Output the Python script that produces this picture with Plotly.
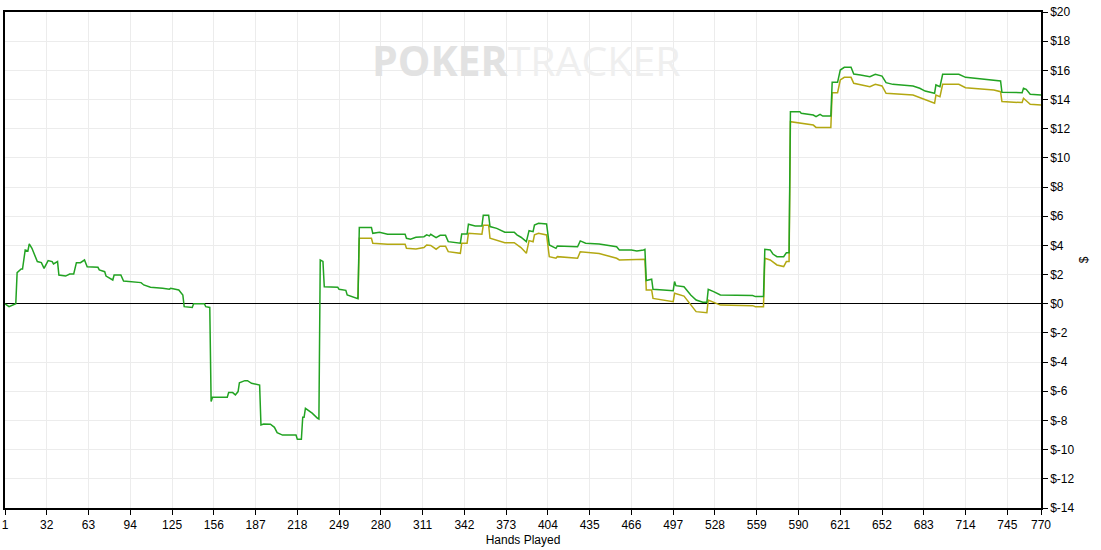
import plotly.graph_objects as go

# Net won (green) breakpoints: hand number and cumulative $
hands_net = [1, 4, 9, 10, 13, 14, 16, 18, 19, 21, 25, 28, 30, 31, 33, 36, 37, 40, 41, 46, 49, 52, 54, 57, 60, 62,
             70, 71, 75, 76, 81, 82, 87, 89, 96, 102, 104, 109, 118, 123, 124, 130, 133, 134, 140, 141, 149, 150, 153,
             154, 155, 166, 167, 170, 172, 174, 175, 179, 181, 184, 190, 191, 193, 198, 201, 203, 207, 217, 218, 221,
             222, 223, 224, 229, 233, 234, 235, 237, 238, 248, 249, 254, 255, 260, 263,
             264, 273, 274, 279, 285, 298, 299, 302, 306, 312, 314, 316, 317, 321, 324, 328, 330, 335, 339, 340, 344,
             345, 350, 355, 356, 360, 361, 366, 369, 372, 379, 381, 384, 388, 390, 393, 394, 397, 403, 405, 410, 411,
             426, 428, 432, 442, 455, 457, 466, 470, 475, 476, 477, 481, 482, 497, 498, 499, 505, 508, 510, 514, 519,
             522, 523, 527, 532, 556, 558, 564, 565, 569, 571, 574, 579, 581, 583, 584, 591, 592, 601, 603, 606, 608,
             614, 615, 619, 621, 624, 629, 631, 636, 643, 647, 652, 655, 660, 675, 680, 684, 691, 692, 695, 697, 709,
             714, 722, 730, 735, 740, 741, 756, 757, 759, 762, 770]
net_won = [0, -0.2, 0, 2.13, 2.38, 2.38, 3.69, 3.62, 4.1, 3.8, 2.89, 2.82, 2.43, 2.59, 2.96, 2.89, 2.73, 2.89, 1.97,
           1.9, 2.04, 2.04, 2.82, 2.82, 3.0, 2.54, 2.5, 2.32, 2.2, 1.9, 1.63, 1.97, 1.97, 1.56, 1.52, 1.45, 1.29, 1.13,
           1.06, 1.0, 1.06, 0.95, 0.6, -0.2, -0.25, 0, 0, -0.2, -0.25,
           -6.7, -6.41, -6.41, -6.09, -6.09, -6.25, -6.02, -5.41, -5.27, -5.27, -5.45, -5.57, -8.31, -8.24, -8.26,
           -8.47, -8.83, -9.0, -9.0, -9.29, -9.29, -7.78, -7.78, -7.17, -7.5, -7.85, -7.9, 3.0, 2.9, 1.17, 1.13, 0.99,
           0.92, 0.6, 0.44, 0.35,
           5.22, 5.22, 4.83, 4.90, 4.76, 4.76, 4.49, 4.42, 4.56, 4.60, 4.72, 4.65, 4.76, 4.53, 4.69, 4.69, 4.26, 4.19,
           4.15, 4.78, 4.78, 5.45, 5.33, 5.33, 6.06, 6.06, 5.29, 5.17, 5.01, 4.90, 4.90, 4.72, 4.56, 4.26, 5.01, 4.94,
           5.40, 5.52, 5.47, 4.03, 3.80, 3.96, 3.91, 4.31, 4.15, 4.10, 3.91, 3.69, 3.69, 3.62, 3.69, 3.73, 1.59, 1.68,
           0.99, 0.90, 1.52, 1.24, 1.17, 0.83, 0.60, 0.26, 0.10, 0.10, 0.99, 0.83, 0.60, 0.56, 0.49, 0.49, 3.73, 3.69,
           3.41, 3.23, 3.23, 3.5, 3.5, 13.17, 13.17, 13.06, 12.94, 12.83, 12.99, 12.87, 12.87, 15.18, 15.18, 16.02,
           16.21, 16.21, 15.75, 15.68, 15.57, 15.73, 15.61, 15.16, 15.04, 14.93, 14.77, 14.58, 14.43, 15.0, 14.88,
           15.73, 15.73, 15.52, 15.45, 15.38, 15.34, 15.27, 14.5, 14.47, 14.77, 14.70, 14.36, 14.31]

# Second (olive) line, diverging from hand 263 on
hands_alt = [263, 264, 273, 274, 285, 298, 299, 306, 312, 314, 317, 321, 324, 328, 330, 339, 340, 344, 345, 355, 356,
             360, 361, 372, 379, 384, 388, 390, 393, 394, 397, 403, 405, 410, 411, 426, 428, 442, 455, 457, 476, 477,
             481, 482, 497, 498, 505, 510, 514, 522, 523, 532, 556, 558, 564, 565, 569, 574, 579, 581, 583, 584, 601,
             603, 614, 615, 619, 621, 624, 629, 631, 643, 647, 652, 655, 675, 684, 691, 692, 695, 697, 709, 714, 735,
             740, 741, 756, 757, 762, 770]
alt_won = [0.35, 4.49, 4.49, 4.15, 4.08, 4.08, 3.80, 3.76, 3.85, 4.03, 4.0, 3.74, 3.95, 3.95, 3.57, 3.46, 4.15, 4.15,
           4.83, 4.76, 5.38, 5.38, 4.49, 4.19, 4.19, 3.85, 3.46, 4.33, 4.25, 4.72, 4.83, 4.72, 3.23, 3.12, 3.23, 3.12,
           3.57, 3.45, 3.12, 3.0, 3.05, 0.95, 0.95, 0.37, 0.14, 0.72, 0.53, -0.09, -0.54, -0.61, 0.26, -0.09, -0.13,
           -0.2, -0.2, 3.12, 3.0, 2.66, 2.55, 2.89, 2.89, 12.48, 12.25, 12.09, 12.09, 14.47, 14.47, 15.34, 15.52,
           15.52, 15.11, 14.88, 15.04, 14.93, 14.43, 14.31, 13.97, 13.74, 14.31, 14.20, 15.04, 15.04, 14.81, 14.66,
           14.54, 13.86, 13.79, 14.09, 13.68, 13.63]

x_ticks = [1, 32, 63, 94, 125, 156, 187, 218, 249, 280, 311, 342, 373, 404, 435, 466, 497, 528, 559, 590, 621, 652,
           683, 714, 745, 770]
y_ticks = list(range(-14, 21, 2))
y_labels = ["$" + str(v) for v in y_ticks]

fig = go.Figure()
fig.add_trace(go.Scatter(x=hands_alt, y=alt_won, mode="lines",
                         line=dict(color="#b3a812", width=1.5), hoverinfo="skip", showlegend=False))
fig.add_trace(go.Scatter(x=hands_net, y=net_won, mode="lines",
                         line=dict(color="#22a322", width=1.5), hoverinfo="skip", showlegend=False))

fig.add_annotation(
    xref="paper", yref="paper", x=0.503, y=0.903, xanchor="center", yanchor="middle", showarrow=False,
    text="<b><span style='color:#e2e2e2'>POKER</span></b><span style='color:#efefef'>TRACKER</span>",
    font=dict(family="Open Sans", size=41, color="#e8e8e8"))

fig.update_layout(
    width=1101, height=550,
    margin=dict(l=5, r=60, t=12, b=42, autoexpand=False),
    paper_bgcolor="white", plot_bgcolor="white",
    font=dict(family="Liberation Sans", size=12, color="black"),
    xaxis=dict(range=[1, 770], tickvals=x_ticks, ticktext=[str(v) for v in x_ticks], automargin=False,
               showgrid=True, gridcolor="#ececec", gridwidth=1,
               showline=True, linecolor="black", linewidth=1.5, mirror=True,
               ticks="outside", ticklen=5, tickcolor="black", zeroline=False,
               title=dict(text="Hands Played", standoff=4, font=dict(size=12))),
    yaxis=dict(range=[-14, 20], side="right", tickvals=y_ticks, ticktext=y_labels, automargin=False,
               showgrid=True, gridcolor="#ececec", gridwidth=1,
               showline=True, linecolor="black", linewidth=1.5, mirror=True,
               ticks="outside", ticklen=5, tickcolor="black",
               zeroline=True, zerolinecolor="black", zerolinewidth=1,
               title=dict(text="$", standoff=6, font=dict(size=12))),
)

fig.write_html("out.html", config={"displayModeBar": False},
               post_script="document.body.style.margin='0';")
